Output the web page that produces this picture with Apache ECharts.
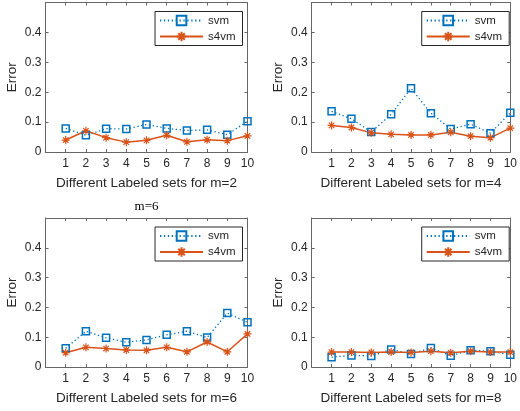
<!DOCTYPE html>
<html>
<head>
<meta charset="utf-8">
<script src="https://cdn.jsdelivr.net/npm/echarts@6/dist/echarts.min.js"></script>
<style>
html, body { margin: 0; padding: 0; background: #fff; }
#chart { width: 520px; height: 411px; }
</style>
</head>
<body>
<div id="chart"></div>
<script>
// data
const sets = [1, 2, 3, 4, 5, 6, 7, 8, 9, 10];
const svmM2 = [0.079, 0.056, 0.078, 0.077, 0.092, 0.079, 0.072, 0.074, 0.058, 0.103];
const s4vmM2 = [0.040, 0.071, 0.048, 0.033, 0.039, 0.056, 0.034, 0.041, 0.038, 0.054];
const svmM4 = [0.136, 0.111, 0.067, 0.126, 0.213, 0.130, 0.077, 0.093, 0.063, 0.131];
const s4vmM4 = [0.089, 0.082, 0.064, 0.059, 0.057, 0.057, 0.066, 0.053, 0.048, 0.080];
const svmM6 = [0.063, 0.120, 0.098, 0.083, 0.091, 0.108, 0.120, 0.099, 0.181, 0.150];
const s4vmM6 = [0.048, 0.066, 0.062, 0.057, 0.056, 0.066, 0.051, 0.084, 0.051, 0.111];
const svmM8 = [0.033, 0.039, 0.037, 0.059, 0.044, 0.064, 0.038, 0.056, 0.053, 0.041];
const s4vmM8 = [0.050, 0.050, 0.049, 0.050, 0.049, 0.053, 0.048, 0.053, 0.050, 0.050];
const mValues = ['2', '4', '6', '8'];
const yTicks = [0, 0.1, 0.2, 0.3, 0.4];

const svmColor = '#0072BD';
const s4vmColor = '#D95319';
const axisColor = '#666';
const textColor = '#262626';
const font = 'Liberation Sans';
const star = 'path://M5,0L5,10M0,5L10,5M1.6,1.6L8.4,8.4M8.4,1.6L1.6,8.4';

let panels = [
    { left: 45.5, top: 2.5, width: 202, height: 149.5, svm: svmM2, s4vm: s4vmM2, m: mValues[0] },
    { left: 311.7, top: 2.5, width: 202.5, height: 149.5, svm: svmM4, s4vm: s4vmM4, m: mValues[1] },
    { left: 45.5, top: 218, width: 202, height: 149, svm: svmM6, s4vm: s4vmM6, m: mValues[2] },
    { left: 311.7, top: 218, width: 202.5, height: 149, svm: svmM8, s4vm: s4vmM8, m: mValues[3] }
];

let grid = [], xAxis = [], yAxis = [], series = [], legend = [];

panels.forEach((p, i) => {
    grid.push({ left: p.left, top: p.top, width: p.width, height: p.height });

    let tick = { show: true, inside: true, length: 3, lineStyle: { color: axisColor } };
    let line = { show: true, onZero: false, lineStyle: { color: axisColor, width: 1 } };

    // bottom axis with labels
    xAxis.push({
        type: 'value', gridIndex: i, min: 0, max: 10, interval: 1,
        name: 'Different Labeled sets for m=' + p.m,
        nameLocation: 'middle', nameGap: 24,
        nameTextStyle: { fontFamily: font, fontSize: 13.5, color: textColor },
        axisLine: line, axisTick: tick, splitLine: { show: false },
        axisLabel: {
            fontFamily: font, fontSize: 12, color: textColor, margin: 6,
            formatter: v => sets.indexOf(v) >= 0 ? String(v) : ''
        }
    });
    // top mirror
    xAxis.push({
        type: 'value', gridIndex: i, min: 0, max: 10, interval: 1, position: 'top',
        axisLine: line, axisTick: tick, axisLabel: { show: false }, splitLine: { show: false }
    });

    yAxis.push({
        type: 'value', gridIndex: i, min: 0, max: 0.5, interval: 0.1,
        name: 'Error', nameLocation: 'middle', nameGap: 26,
        nameTextStyle: { fontFamily: font, fontSize: 13.5, color: textColor },
        axisLine: line, axisTick: tick, splitLine: { show: false },
        axisLabel: {
            fontFamily: font, fontSize: 12, color: textColor, margin: 4,
            formatter: v => {
                let t = yTicks.find(k => Math.abs(k - v) < 1e-9);
                return t === undefined ? '' : String(t);
            }
        }
    });
    // right mirror
    yAxis.push({
        type: 'value', gridIndex: i, min: 0, max: 0.5, interval: 0.1, position: 'right',
        axisLine: line, axisTick: tick, axisLabel: { show: false }, splitLine: { show: false }
    });

    series.push({
        name: 'svm', type: 'line', xAxisIndex: i * 2, yAxisIndex: i * 2,
        data: sets.map((x, k) => [x, p.svm[k]]),
        symbol: 'rect', symbolSize: 7,
        lineStyle: { color: svmColor, width: 1.3, type: [1.3, 2.6] },
        itemStyle: { color: 'rgba(255,255,255,0)', borderColor: svmColor, borderWidth: 1.5 }
    });
    series.push({
        name: 's4vm', type: 'line', xAxisIndex: i * 2, yAxisIndex: i * 2,
        data: sets.map((x, k) => [x, p.s4vm[k]]),
        symbol: star, symbolSize: 8,
        lineStyle: { color: s4vmColor, width: 1.5 },
        itemStyle: { color: s4vmColor, borderColor: s4vmColor, borderWidth: 1.2 }
    });

    legend.push({
        data: ['svm', 's4vm'], orient: 'vertical',
        right: 520 - (p.left + p.width) + 5, top: p.top + 9,
        itemWidth: 43, itemHeight: 12, itemGap: 4,
        padding: [3, 7, 3, 4],
        borderColor: textColor, borderWidth: 1, backgroundColor: '#fff',
        selectedMode: false,
        textStyle: { fontFamily: font, fontSize: 11.5, color: textColor }
    });
});

let myChart = echarts.init(document.getElementById('chart'), null, { renderer: 'canvas' });
myChart.setOption({
    animation: false,
    backgroundColor: '#fff',
    title: {
        text: 'm=6', left: 146.5, top: 200.5, textAlign: 'center', padding: 0,
        textStyle: { fontFamily: 'Liberation Serif', fontSize: 13, fontWeight: 'normal', color: '#000' }
    },
    grid: grid,
    xAxis: xAxis,
    yAxis: yAxis,
    legend: legend,
    series: series
});
</script>
</body>
</html>
